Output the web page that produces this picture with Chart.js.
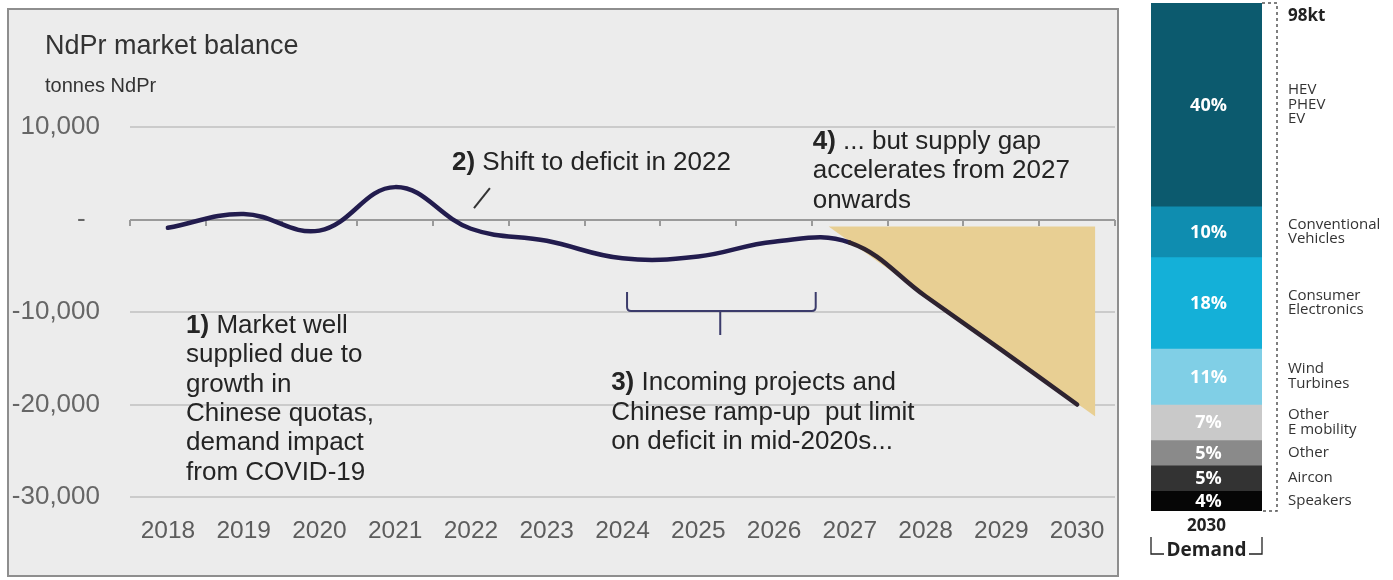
<!DOCTYPE html>
<html>
<head>
<meta charset="utf-8">
<script src="https://cdn.jsdelivr.net/npm/chart.js@4/dist/chart.umd.min.js"></script>
<style>
  html, body { margin: 0; padding: 0; background: #ffffff; width: 1393px; height: 580px; overflow: hidden; }
  #panel { position: absolute; left: 7px; top: 8px; width: 1112px; height: 569px; box-sizing: border-box;
           border: 2px solid #8e8e8e; background: #ececec; }
  #balanceWrap { position: absolute; left: 0; top: 0; width: 1130px; height: 580px; }
  #demandWrap { position: absolute; left: 1140px; top: 0; width: 253px; height: 580px; }
</style>
</head>
<body>
<div id="panel"></div>
<div id="balanceWrap"><canvas id="balance" width="1130" height="580"></canvas></div>
<div id="demandWrap"><canvas id="demand" width="253" height="580"></canvas></div>

<script>
// ---- NdPr market balance (tonnes NdPr) ----
const years = [2018, 2019, 2020, 2021, 2022, 2023, 2024, 2025, 2026, 2027, 2028, 2029, 2030];
const balance = [-900, 600, -1200, 3500, -1000, -2300, -4200, -4000, -2400, -2500, -8300, -14100, -20000];

// Supply gap wedge (edge of the shaded area, opening from 2027)
const gapYears = [2026.72, 2030.24];
const gapBalance = [-750, -21300];

// Value axis ticks
const yTickValues = [10000, 0, -10000, -20000, -30000];
const yTickLabels = ['10,000', '-  ', '-10,000', '-20,000', '-30,000'];

// ---- 2030 demand split ----
const demandYear = ['2030'];
const demandTotal = '98kt';
const segmentNames = [
  ['HEV', 'PHEV', 'EV'],
  ['Conventional', 'Vehicles'],
  ['Consumer', 'Electronics'],
  ['Wind', 'Turbines'],
  ['Other', 'E mobility'],
  ['Other'],
  ['Aircon'],
  ['Speakers']
];
const segmentShares = [40, 10, 18, 11, 7, 5, 5, 4];
const segmentColors = ['#0c5a6e', '#0f8db0', '#14b0d8', '#80cfe6', '#c9c9c9', '#8a8a8a', '#333333', '#060606'];

const SANS = "'Liberation Sans', Arial, sans-serif";
const UI = "'Open Sans', 'Noto Sans', sans-serif";

// Text callouts placed in data space
const notes = [
  { x: 2018.24, y: -11510, bold: '1)', lines: ['Market well', 'supplied due to', 'growth in', 'Chinese quotas,', 'demand impact', 'from COVID-19'] },
  { x: 2021.75, y: 6100, bold: '2)', lines: ['Shift to deficit in 2022'] },
  { x: 2023.85, y: -17680, bold: '3)', lines: ['Incoming projects and', 'Chinese ramp-up  put limit', 'on deficit in mid-2020s...'] },
  { x: 2026.51, y: 8380, bold: '4)', lines: ['... but supply gap', 'accelerates from 2027', 'onwards'] }
];

const balanceDecor = {
  id: 'balanceDecor',
  afterDatasetsDraw(chart) {
    const ctx = chart.ctx;
    const xs = chart.scales.x, ys = chart.scales.y;
    ctx.save();
    // heading
    ctx.fillStyle = '#333333';
    ctx.textAlign = 'left';
    ctx.textBaseline = 'middle';
    ctx.font = '27px ' + SANS;
    ctx.fillText('NdPr market balance', 45, 47);
    ctx.font = '20px ' + SANS;
    ctx.fillText('tonnes NdPr', 45, 86);

    // callouts
    const lh = 29.3;
    ctx.fillStyle = '#242424';
    notes.forEach(n => {
      const px = xs.getPixelForValue(n.x);
      const py = ys.getPixelForValue(n.y);
      n.lines.forEach((t, i) => {
        let x = px;
        if (i === 0) {
          ctx.font = 'bold 26px ' + SANS;
          ctx.fillText(n.bold, x, py + i * lh);
          x += ctx.measureText(n.bold + ' ').width;
        }
        ctx.font = '26px ' + SANS;
        ctx.fillText(t, x, py + i * lh);
      });
    });

    // leader for note 2
    ctx.strokeStyle = '#333333';
    ctx.lineWidth = 2;
    ctx.beginPath();
    ctx.moveTo(xs.getPixelForValue(2022.04), ys.getPixelForValue(1240));
    ctx.lineTo(xs.getPixelForValue(2022.25), ys.getPixelForValue(3400));
    ctx.stroke();

    // brace spanning the mid-2020s
    const bx1 = xs.getPixelForValue(2024.06), bx2 = xs.getPixelForValue(2026.55), bxm = xs.getPixelForValue(2025.29);
    const bTop = ys.getPixelForValue(-7840), bBar = ys.getPixelForValue(-9890), bStem = ys.getPixelForValue(-12490);
    const r = 4;
    ctx.strokeStyle = '#3b3b6b';
    ctx.lineWidth = 2;
    ctx.beginPath();
    ctx.moveTo(bx1, bTop);
    ctx.lineTo(bx1, bBar - r);
    ctx.quadraticCurveTo(bx1, bBar, bx1 + r, bBar);
    ctx.lineTo(bx2 - r, bBar);
    ctx.quadraticCurveTo(bx2, bBar, bx2, bBar - r);
    ctx.lineTo(bx2, bTop);
    ctx.moveTo(bxm, bBar);
    ctx.lineTo(bxm, bStem);
    ctx.stroke();
    ctx.restore();
  }
};

new Chart(document.getElementById('balance'), {
  type: 'line',
  data: {
    datasets: [
      {
        label: 'Market balance',
        data: years.map((yr, i) => ({ x: yr, y: balance[i] })),
        borderColor: '#221c4e',
        borderWidth: 4.5,
        borderCapStyle: 'round',
        tension: 0.4,
        pointRadius: 0,
        fill: false,
        order: 0,
        // forecast stretch sits on the shaded gap and reads darker
        segment: { borderColor: c => (c.p0.parsed.x >= 2027 ? '#2e2330' : undefined) }
      },
      {
        label: 'Supply gap',
        data: gapYears.map((yr, i) => ({ x: yr, y: gapBalance[i] })),
        backgroundColor: '#e8cf93',
        borderWidth: 0,
        pointRadius: 0,
        tension: 0,
        fill: { value: gapBalance[0] },
        order: 1
      }
    ]
  },
  options: {
    responsive: false,
    animation: false,
    events: [],
    layout: { padding: { top: 127, right: 15, left: 0, bottom: 0 } },
    plugins: { legend: { display: false }, tooltip: { enabled: false } },
    scales: {
      x: {
        type: 'linear',
        min: years[0] - 0.5,
        max: years[years.length - 1] + 0.5,
        afterBuildTicks: s => { s.ticks = years.map(v => ({ value: v })); },
        afterFit: s => { s.height = 83; },
        ticks: { autoSkip: false, maxRotation: 0, padding: 20, color: '#5c5c5c',
                 font: { family: SANS, size: 24.5 }, callback: v => String(v) },
        grid: { display: false, drawTicks: false },
        border: { display: false }
      },
      xZero: {
        type: 'linear',
        position: { y: 0 },
        min: years[0] - 0.5,
        max: years[years.length - 1] + 0.5,
        afterBuildTicks: s => { s.ticks = years.map(v => ({ value: v - 0.5 })).concat([{ value: years[years.length - 1] + 0.5 }]); },
        afterFit: s => { s.height = 0; },
        ticks: { display: false },
        grid: { drawOnChartArea: false, drawTicks: true, tickLength: 6, color: '#9a9a9a', lineWidth: 2 },
        border: { display: false }
      },
      y: {
        min: -30000,
        max: 10000,
        afterBuildTicks: s => { s.ticks = yTickValues.map(v => ({ value: v })); },
        afterFit: s => { s.width = 130; },
        ticks: { padding: 30, color: '#666666', font: { family: SANS, size: 26 },
                 callback: v => yTickLabels[yTickValues.indexOf(v)] },
        grid: { drawTicks: false, lineWidth: 2,
                color: c => (c.tick && c.tick.value === 0) ? '#9a9a9a' : '#cbcbcb' },
        border: { display: false }
      }
    }
  },
  plugins: [balanceDecor]
});

// ---- stacked demand column ----
const demandDecor = {
  id: 'demandDecor',
  afterDatasetsDraw(chart) {
    const ctx = chart.ctx;
    const area = chart.chartArea;
    ctx.save();
    const labelX = area.right + 26;
    chart.data.datasets.forEach((ds, i) => {
      const bar = chart.getDatasetMeta(i).data[0];
      const cy = (bar.y + bar.base) / 2;
      // share inside the bar
      ctx.fillStyle = '#ffffff';
      ctx.textAlign = 'center';
      ctx.textBaseline = 'middle';
      ctx.font = 'bold 18px ' + UI;
      ctx.fillText(segmentShares[i] + '%', bar.x + 2, cy + 1);
      // segment name
      const lines = segmentNames[i];
      const lh = 14.5;
      ctx.fillStyle = '#333333';
      ctx.textAlign = 'left';
      ctx.font = '15px ' + UI;
      lines.forEach((t, k) => {
        ctx.fillText(t, labelX, cy + (k - (lines.length - 1) / 2) * lh);
      });
    });

    // dotted bracket of the total
    const dx = area.right + 15;
    ctx.strokeStyle = '#555555';
    ctx.lineWidth = 1.5;
    ctx.setLineDash([3, 3]);
    ctx.beginPath();
    ctx.moveTo(area.right, area.top);
    ctx.lineTo(dx, area.top);
    ctx.lineTo(dx, area.bottom);
    ctx.lineTo(area.right, area.bottom);
    ctx.stroke();
    ctx.setLineDash([]);

    ctx.fillStyle = '#222222';
    ctx.textAlign = 'left';
    ctx.textBaseline = 'middle';
    ctx.font = 'bold 17px ' + UI;
    ctx.fillText(demandTotal, labelX, area.top + 13);

    // category caption
    const cx = (area.left + area.right) / 2;
    ctx.textAlign = 'center';
    ctx.font = 'bold 17px ' + UI;
    ctx.fillText(chart.data.labels[0], cx, area.bottom + 15);
    ctx.font = 'bold 19px ' + UI;
    ctx.fillText('Demand', cx, area.bottom + 40);
    ctx.strokeStyle = '#222222';
    ctx.lineWidth = 1.3;
    ctx.beginPath();
    ctx.moveTo(area.left, area.bottom + 26);
    ctx.lineTo(area.left, area.bottom + 43);
    ctx.lineTo(area.left + 13, area.bottom + 43);
    ctx.moveTo(area.right, area.bottom + 26);
    ctx.lineTo(area.right, area.bottom + 43);
    ctx.lineTo(area.right - 13, area.bottom + 43);
    ctx.stroke();
    ctx.restore();
  }
};

new Chart(document.getElementById('demand'), {
  type: 'bar',
  data: {
    labels: demandYear,
    datasets: segmentShares.map((s, i) => ({
      label: segmentNames[i].join(' '),
      data: [s],
      backgroundColor: segmentColors[i],
      borderWidth: 0,
      barPercentage: 1,
      categoryPercentage: 1
    }))
  },
  options: {
    responsive: false,
    animation: false,
    events: [],
    layout: { padding: { left: 11, right: 131, top: 3, bottom: 69 } },
    plugins: { legend: { display: false }, tooltip: { enabled: false } },
    scales: {
      x: { stacked: true, display: false },
      y: { stacked: true, display: false, min: 0, max: 100, reverse: true }
    }
  },
  plugins: [demandDecor]
});
</script>
</body>
</html>
